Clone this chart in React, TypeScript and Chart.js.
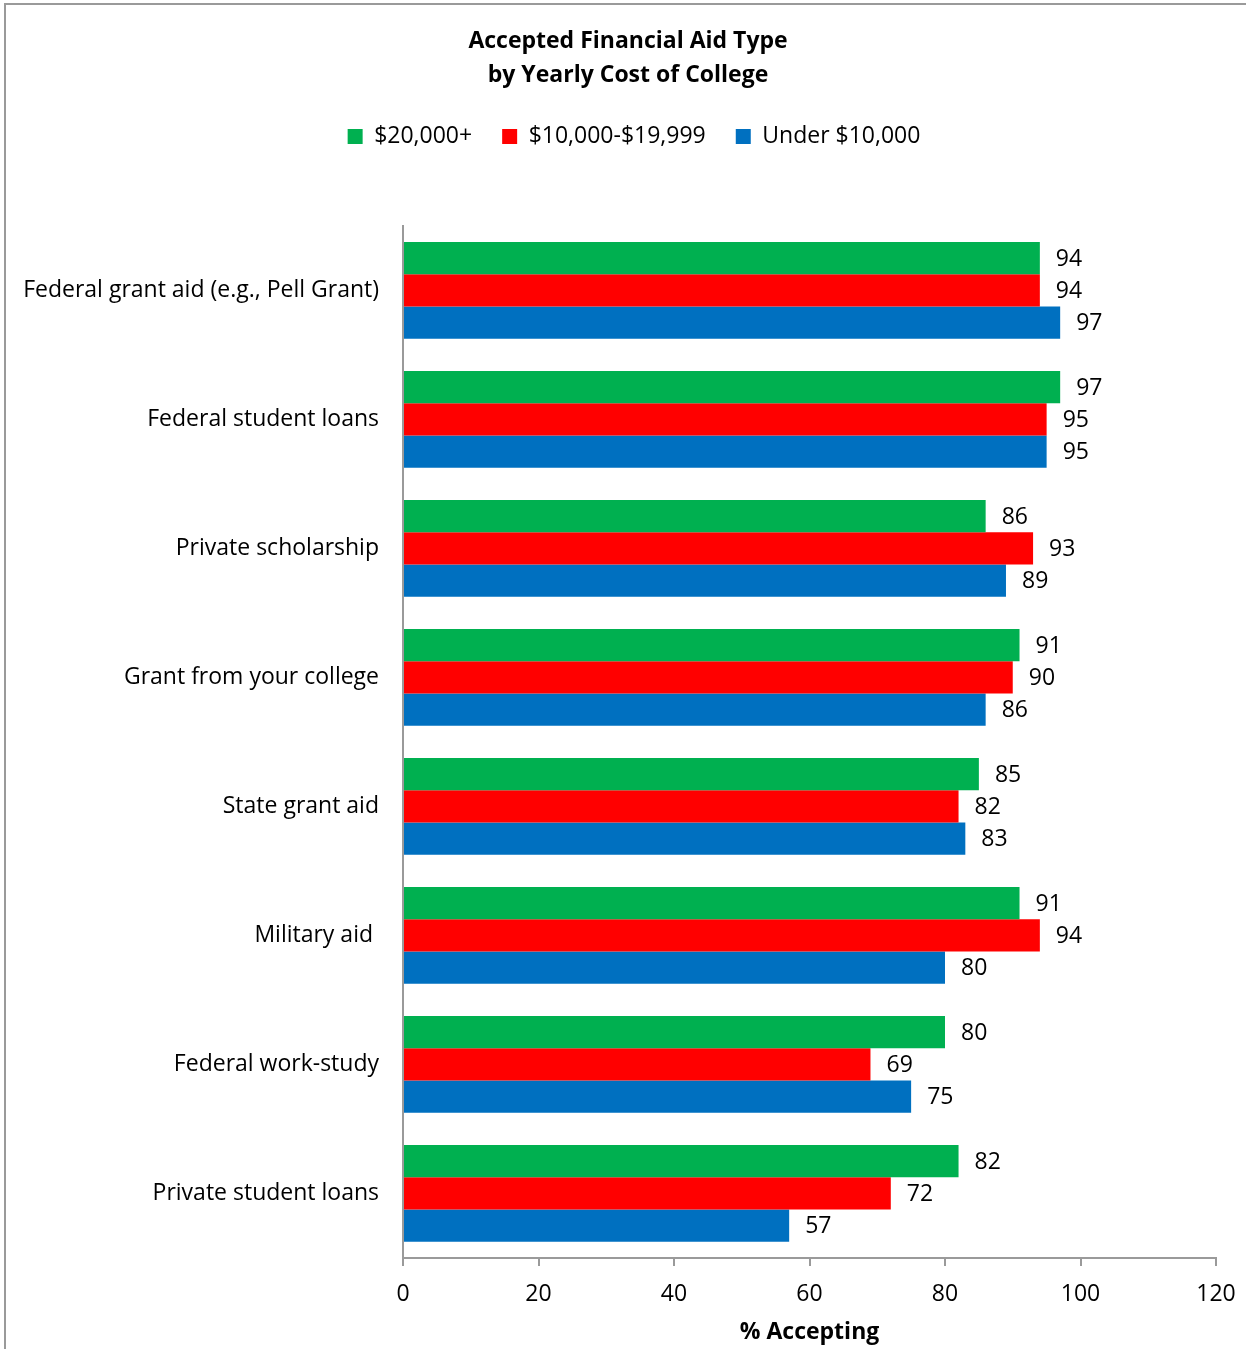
import React, { useEffect, useRef } from "react";
import { Chart, registerables } from "chart.js";

Chart.register(...registerables);

const categories = [
  "Federal grant aid (e.g., Pell Grant)",
  "Federal student loans",
  "Private scholarship",
  "Grant from your college",
  "State grant aid",
  "Military aid ",
  "Federal work-study",
  "Private student loans",
];
const seriesNames = ["$20,000+", "$10,000-$19,999", "Under $10,000"];
const over20k = [94, 97, 86, 91, 85, 91, 80, 82];
const from10kTo20k = [94, 95, 93, 90, 82, 94, 69, 72];
const under10k = [97, 95, 89, 86, 83, 80, 75, 57];
const seriesColors = ["#00B050", "#FF0000", "#0070C0"];
const titleLines = ["Accepted Financial Aid Type", "by Yearly Cost of College"];
const xAxisTitle = "% Accepting";
const xMin = 0;
const xMax = 120;
const xStep = 20;

const W = 1246;
const H = 1349;
const FONT = "'Open Sans', 'Noto Sans', sans-serif";
const FS = 23;

const framePlugin = {
  id: "frame",
  beforeDraw(chart: any) {
    const ctx = chart.ctx;
    ctx.save();
    ctx.strokeStyle = "#9a9a9a";
    ctx.lineWidth = 2;
    ctx.beginPath();
    ctx.moveTo(5, H + 5);
    ctx.lineTo(5, 4);
    ctx.lineTo(W + 5, 4);
    ctx.stroke();
    ctx.restore();
  },
};

// Shift the title and legend blocks so they are centred like the original frame
const headerShiftPlugin = {
  id: "headerShift",
  afterLayout(chart: any) {
    if (chart.titleBlock) chart.titleBlock.left = 40;
    if (chart.legend) chart.legend.left = 52;
  },
};

const valueLabelPlugin = {
  id: "valueLabels",
  afterDatasetsDraw(chart: any) {
    const ctx = chart.ctx;
    ctx.save();
    ctx.font = `${FS}px ${FONT}`;
    ctx.fillStyle = "#000";
    ctx.textAlign = "left";
    ctx.textBaseline = "middle";
    chart.data.datasets.forEach((ds: any, i: number) => {
      const meta = chart.getDatasetMeta(i);
      meta.data.forEach((el: any, j: number) => {
        ctx.fillText(String(ds.data[j]), el.x + 16, el.y + 1);
      });
    });
    ctx.restore();
  },
};

export default function App() {
  const ref = useRef<HTMLCanvasElement>(null);

  useEffect(() => {
    document.body.style.margin = "0";
    const canvas = ref.current!;
    const chart = new Chart(canvas, {
      type: "bar",
      data: {
        labels: categories,
        datasets: [
          { label: seriesNames[0], data: over20k, backgroundColor: seriesColors[0] },
          { label: seriesNames[1], data: from10kTo20k, backgroundColor: seriesColors[1] },
          { label: seriesNames[2], data: under10k, backgroundColor: seriesColors[2] },
        ],
      },
      options: {
        indexAxis: "y",
        responsive: false,
        animation: false,
        layout: { padding: { left: 0, right: 30, top: 0, bottom: 0 } },
        datasets: {
          bar: { categoryPercentage: 0.75, barPercentage: 1 },
        },
        scales: {
          x: {
            type: "linear",
            position: "bottom",
            min: xMin,
            max: xMax,
            ticks: {
              stepSize: xStep,
              color: "#000",
              font: { family: FONT, size: FS },
              padding: 15,
            },
            grid: {
              drawOnChartArea: false,
              drawTicks: true,
              tickLength: 8,
              color: "#9a9a9a",
              lineWidth: 2,
            },
            border: { color: "#9a9a9a", width: 2 },
            title: {
              display: true,
              text: xAxisTitle,
              color: "#000",
              font: { family: FONT, size: FS, weight: "bold" },
              padding: { top: 0, bottom: 3 },
            },
            afterFit(scale: any) {
              scale.height = 91;
              scale.paddingRight = 0;
              scale.paddingLeft = 0;
            },
          },
          spacer: {
            type: "linear",
            axis: "x",
            position: "top",
            display: true,
            min: 0,
            max: 1,
            grid: { display: false, drawTicks: false },
            ticks: { display: false },
            border: { display: false },
            afterFit(scale: any) {
              scale.height = 68;
              scale.paddingRight = 0;
              scale.paddingLeft = 0;
            },
          },
          y: {
            type: "category",
            offset: true,
            ticks: {
              color: "#000",
              font: { family: FONT, size: FS },
              padding: 24,
            },
            grid: { display: false, drawTicks: false },
            border: { color: "#9a9a9a", width: 2 },
            afterFit(scale: any) {
              scale.width = 403;
            },
          },
        },
        plugins: {
          title: {
            display: true,
            text: titleLines,
            color: "#000",
            font: { family: FONT, size: FS, weight: "bold", lineHeight: 1.478 },
            padding: { top: 24, bottom: 3 },
          },
          legend: {
            display: true,
            position: "top",
            labels: {
              boxWidth: 15,
              boxHeight: 15,
              color: "#000",
              font: { family: FONT, size: FS },
              padding: 30,
            },
          },
          tooltip: { enabled: false },
        },
      },
      plugins: [framePlugin, headerShiftPlugin, valueLabelPlugin],
    } as any);
    return () => chart.destroy();
  }, []);

  return (
    <div style={{ position: "absolute", left: 0, top: 0, width: W, height: H }}>
      <canvas ref={ref} width={W} height={H} style={{ display: "block" }} />
    </div>
  );
}
